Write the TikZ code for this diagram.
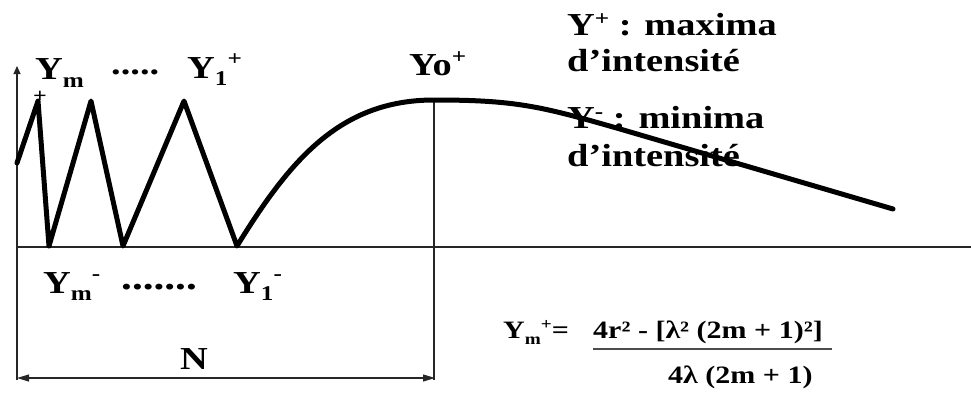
\documentclass[tikz,border=0pt]{standalone}
\usepackage{fontspec}
\setmainfont{Liberation Serif}[FakeStretch=1.2]
\usetikzlibrary{arrows.meta}
\begin{document}
\begin{tikzpicture}[x=1pt,y=-1pt,
  axisline/.style={line width=1.1pt, draw=black!85},
  wave/.style={line width=5pt, line join=round, line cap=round},
  lbl/.style={anchor=base west, inner sep=0pt, font=\bfseries\fontsize{32}{36}\selectfont},
  frm/.style={anchor=base west, inner sep=0pt, font=\bfseries\fontsize{25}{28}\selectfont},
  smallplus/.style={anchor=center, inner sep=0pt, font=\bfseries\fontsize{20}{20}\selectfont}]
\useasboundingbox (0,0) rectangle (971,394);

% axes
\coordinate (O) at (17,247);
\coordinate (Otop) at (17,66);
\coordinate (Obot) at (17,380);
\coordinate (Xend) at (971,247);
\coordinate (Ptop) at (434,100);
\coordinate (Pbot) at (434,380);
\draw[axisline, -{Triangle[length=8pt,width=7pt]}] (Obot) -- (Otop);
\draw[axisline] (O) -- (Xend);
\draw[axisline] (Ptop) -- (Pbot);

% dimension N
\coordinate (Na) at (17,378);
\coordinate (Nb) at (435,378);
\draw[axisline, {Triangle[length=12pt,width=7pt]}-{Triangle[length=12pt,width=7pt]}] (Na) -- (Nb);

% intensity curve
\draw[wave] (17,163) -- (38,101) -- (49,246) -- (91,101) -- (123,246) -- (184,101) -- (237,246)
  .. controls (290,160) and (340,100) .. (434,100)
  .. controls (515,100) and (540,106) .. (620,129) -- (893,209);

% top labels
\node[lbl] (ym) at (35,79) {Y\raisebox{-8pt}{\fontsize{21}{21}\selectfont m}};
\node[smallplus] (ymplus) at (40,97) {+};
\node[lbl] (dotsa) at (111,74) {.....};
\node[lbl] (y1p) at (187,78) {Y\raisebox{-7pt}{\fontsize{21}{21}\selectfont 1}\raisebox{13pt}{\fontsize{21}{21}\selectfont +}};
\node[lbl] (yo) at (409,75) {Yo\raisebox{12pt}{\fontsize{21}{21}\selectfont +}};

% legend
\node[lbl] (lega) at (567,35) {Y\raisebox{10pt}{\fontsize{21}{21}\selectfont +} : maxima};
\node[lbl] (legb) at (567,71) {d’intensité};
\node[lbl] (legc) at (567,128) {Y\raisebox{10pt}{\fontsize{21}{21}\selectfont -} : minima};
\node[lbl] (legd) at (567,166) {d’intensité};

% bottom labels
\node[lbl] (ymm) at (43,293) {Y\raisebox{-7pt}{\fontsize{21}{21}\selectfont m}\raisebox{13pt}{\fontsize{21}{21}\selectfont -}};
\node[lbl, font=\bfseries\fontsize{36}{36}\selectfont] (dotsb) at (121,289) {.......};
\node[lbl] (y1m) at (233,293) {Y\raisebox{-7pt}{\fontsize{21}{21}\selectfont 1}\raisebox{13pt}{\fontsize{21}{21}\selectfont -}};
\node[lbl] (N) at (180,369) {N};

% formula
\node[frm] (fl) at (503,338) {Y\raisebox{-6pt}{\fontsize{16}{16}\selectfont m}\raisebox{9pt}{\fontsize{16}{16}\selectfont +}=};
\node[frm] (num) at (593,338) {4r² - [λ² (2m + 1)²]};
\coordinate (fa) at (593,349);
\coordinate (fb) at (832,349);
\draw[line width=1.2pt, draw=black!70] (fa) -- (fb);
\node[frm] (den) at (668,383) {4λ (2m + 1)};
\end{tikzpicture}
\end{document}
